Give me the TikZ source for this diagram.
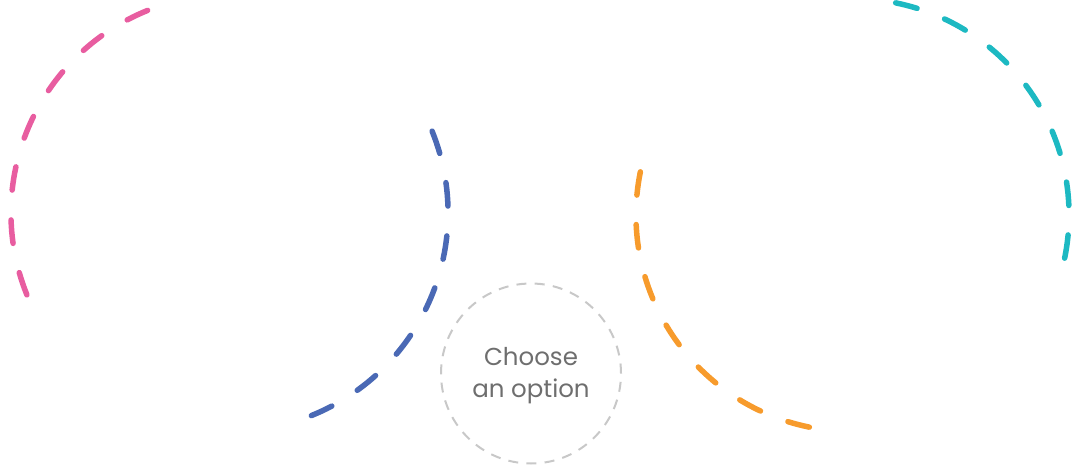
\documentclass[tikz,border=0pt]{standalone}
\usepackage{fontspec}
\setmainfont{Poppins}
\definecolor{cpink}{HTML}{E85DA0}
\definecolor{cblue}{HTML}{4A69B5}
\definecolor{corange}{HTML}{F79B2C}
\definecolor{cteal}{HTML}{1DB9C2}
\definecolor{cgray}{HTML}{C8C8C8}
\definecolor{ctext}{HTML}{6E6E6E}
\begin{document}
\begin{tikzpicture}[x=1pt,y=1pt,
  bigarcL/.style={line width=5.5pt, line cap=round, dash pattern=on 23.5pt off 29.95pt},
  bigarcR/.style={line width=5.5pt, line cap=round, dash pattern=on 23.5pt off 29.5pt},
  choice/.style={circle, draw=cgray, line width=2pt, dash pattern=on 10pt off 8.24pt,
    minimum size=180pt, inner sep=0pt},
  choicetext/.style={text=ctext, align=center, inner sep=0pt,
    font=\fontsize{24.5}{32}\selectfont}]
\useasboundingbox (0,0) rectangle (1073,466);
\coordinate (L) at (229.5,253);
\coordinate (R) at (852.5,251);
% left circle arcs
\draw[bigarcL, cblue] (L) ++(22:218.5) arc[start angle=22, end angle=-68, radius=218.5];
\draw[bigarcL, cpink] (L) ++(202:218.5) arc[start angle=202, end angle=112, radius=218.5];
% right circle arcs
\draw[bigarcR, corange] (R) ++(168.5:216.5) arc[start angle=168.5, end angle=258.5, radius=216.5];
\draw[bigarcR, cteal] (R) ++(-11.5:216.5) arc[start angle=-11.5, end angle=78.5, radius=216.5];
% center choice
\node[choice] (opt) at (531,92.5) {};
\node[choicetext] (optText) at ([yshift=-2pt]opt.center) {Choose\\an option};
\end{tikzpicture}
\end{document}
